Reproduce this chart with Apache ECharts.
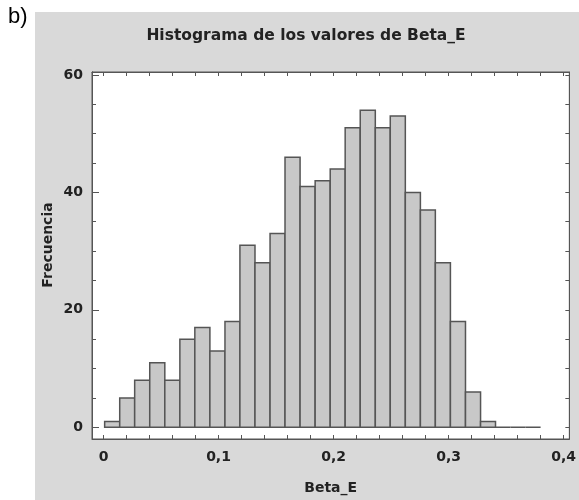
<!DOCTYPE html>
<html>
<head>
<meta charset="utf-8">
<script src="https://cdn.jsdelivr.net/npm/echarts@6/dist/echarts.min.js"></script>
<style>
  html, body { margin: 0; padding: 0; background: #fff; }
  .panel { position: absolute; left: 35px; top: 12px; width: 544px; height: 488px; background: #d9d9d9; }
  #chart { position: absolute; left: 0; top: 0; width: 579px; height: 500px; }
</style>
</head>
<body>
<div class="panel"></div>
<div id="chart"></div>
<script>
// bordes de las clases (Beta_E)
var binEdges = [0.0010, 0.0141, 0.0271, 0.0402, 0.0533, 0.0664, 0.0794, 0.0925, 0.1056, 0.1186,
  0.1317, 0.1448, 0.1578, 0.1709, 0.1840, 0.1971, 0.2101, 0.2232, 0.2363, 0.2493,
  0.2624, 0.2755, 0.2885, 0.3016, 0.3147, 0.3278, 0.3408, 0.3539, 0.3670, 0.3800];
// frecuencia de cada clase
var counts = [1, 5, 8, 11, 8, 15, 17, 13, 18, 31, 28, 33, 46, 41, 42, 44, 51, 54, 51, 53,
  40, 37, 28, 18, 6, 1, 0, 0, 0];
var xLabels = [0, 0.1, 0.2, 0.3, 0.4];
var xMinorTicks = [0, 0.02, 0.04, 0.06, 0.08, 0.1, 0.12, 0.14, 0.16, 0.18, 0.2, 0.22, 0.24, 0.26, 0.28, 0.3, 0.32, 0.34, 0.36, 0.38, 0.4];
var yLabels = [0, 20, 40, 60];
var yMinorTicks = [0, 5, 10, 15, 20, 25, 30, 35, 40, 45, 50, 55, 60];

var bins = [];
for (var i = 0; i < counts.length; i++) {
  bins.push([binEdges[i], binEdges[i + 1], counts[i]]);
}

var txt = { fontFamily: 'DejaVu Sans', fontWeight: 'bold', fontSize: 14, color: '#222' };
var xMin = -0.01, xMax = 0.405, yMin = -2, yMax = 60.5;

function xAxisOf(pos, labels) {
  return {
    type: 'value', position: pos, min: xMin, max: xMax,
    splitLine: { show: false },
    axisLine: { onZero: false, lineStyle: { color: '#555', width: 1 } },
    axisTick: { inside: true, length: 4, customValues: xMinorTicks, lineStyle: { color: '#555' } },
    axisLabel: labels ? {
      customValues: xLabels, margin: 11,
      fontFamily: txt.fontFamily, fontWeight: 'bold', fontSize: 14, color: '#222',
      formatter: function (v) { return String(v).replace('.', ','); }
    } : { show: false }
  };
}
function yAxisOf(pos, labels, ticks, len) {
  return {
    type: 'value', position: pos, min: yMin, max: yMax,
    splitLine: { show: false },
    axisLine: { onZero: false, lineStyle: { color: '#555', width: 1 } },
    axisTick: { inside: true, length: len, customValues: ticks, lineStyle: { color: '#555' } },
    axisLabel: labels ? {
      customValues: yLabels, margin: 9,
      fontFamily: txt.fontFamily, fontWeight: 'bold', fontSize: 14, color: '#222'
    } : { show: false }
  };
}

var chart = echarts.init(document.getElementById('chart'));
chart.setOption({
  backgroundColor: 'transparent',
  animation: false,
  title: {
    text: 'Histograma de los valores de Beta_E',
    left: 301, top: 23, textAlign: 'center',
    textStyle: { fontFamily: txt.fontFamily, fontWeight: 'bold', fontSize: 15.5, color: '#222' }
  },
  graphic: [
    { type: 'text', left: 8, top: 6, style: { text: 'b)', font: '22px "Liberation Sans", Arial', fill: '#000' } },
    { type: 'text', x: 48, y: 245, rotation: Math.PI / 2,
      style: { text: 'Frecuencia', font: 'bold 14px "DejaVu Sans"', fill: '#222', align: 'center', verticalAlign: 'middle' } }
  ],
  grid: { left: 92, top: 72, right: 2, bottom: 61, show: true, backgroundColor: '#fff', borderColor: '#555', borderWidth: 1 },
  xAxis: [
    Object.assign(xAxisOf('bottom', true), {
      name: 'Beta_E', nameLocation: 'middle', nameGap: 42,
      nameTextStyle: { fontFamily: txt.fontFamily, fontWeight: 'bold', fontSize: 14, color: '#222' }
    }),
    xAxisOf('top', false)
  ],
  yAxis: [
    yAxisOf('left', true, yMinorTicks, 4),
    yAxisOf('left', false, yLabels, 7),
    yAxisOf('right', false, yMinorTicks, 4)
  ],
  series: [{
    type: 'custom',
    xAxisIndex: 0, yAxisIndex: 0,
    data: bins,
    encode: { x: [0, 1], y: 2 },
    renderItem: function (params, api) {
      var p0 = api.coord([api.value(0), api.value(2)]);
      var p1 = api.coord([api.value(1), 0]);
      return {
        type: 'rect',
        shape: { x: p0[0], y: p0[1], width: p1[0] - p0[0], height: p1[1] - p0[1] },
        style: { fill: '#c8c8c8', stroke: '#555', lineWidth: 1.5 }
      };
    }
  }]
});
</script>
</body>
</html>
